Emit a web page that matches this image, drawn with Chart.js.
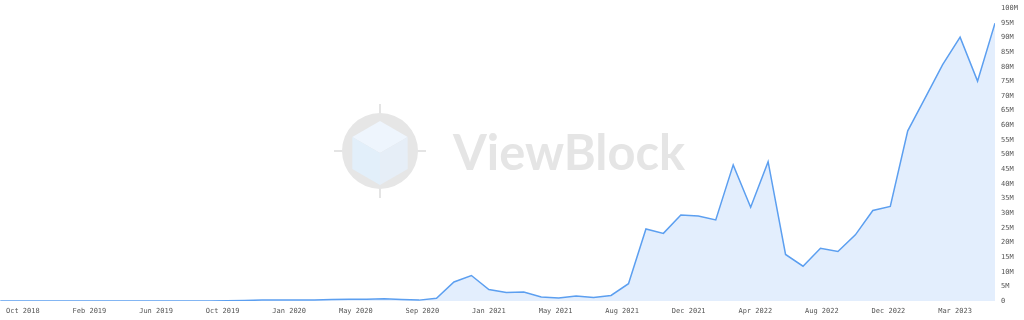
<!DOCTYPE html>
<html>
<head>
<meta charset="utf-8">
<script src="https://cdn.jsdelivr.net/npm/chart.js@4/dist/chart.umd.min.js"></script>
<style>
  html, body { margin: 0; padding: 0; background: #fff; overflow: hidden; }
  #wrap { width: 1024px; height: 322px; position: relative; top: -2px; }
</style>
</head>
<body>
<div id="wrap"><canvas id="c"></canvas></div>
<script>
// Monthly points, Sep 2018 .. Jun 2023 (values in millions)
const months = [
  'Sep 2018','Oct 2018','Nov 2018','Dec 2018','Jan 2019','Feb 2019','Mar 2019','Apr 2019','May 2019','Jun 2019',
  'Jul 2019','Aug 2019','Sep 2019','Oct 2019','Nov 2019','Dec 2019','Jan 2020','Feb 2020','Mar 2020','Apr 2020',
  'May 2020','Jun 2020','Jul 2020','Aug 2020','Sep 2020','Oct 2020','Nov 2020','Dec 2020','Jan 2021','Feb 2021',
  'Mar 2021','Apr 2021','May 2021','Jun 2021','Jul 2021','Aug 2021','Sep 2021','Oct 2021','Nov 2021','Dec 2021',
  'Jan 2022','Feb 2022','Mar 2022','Apr 2022','May 2022','Jun 2022','Jul 2022','Aug 2022','Sep 2022','Oct 2022',
  'Nov 2022','Dec 2022','Jan 2023','Feb 2023','Mar 2023','Apr 2023','May 2023','Jun 2023'
];
const values = [
  0, 0, 0, 0, 0, 0, 0, 0, 0, 0,
  0, 0, 0, 0.05, 0.2, 0.3, 0.3, 0.3, 0.35, 0.5,
  0.6, 0.6, 0.8, 0.5, 0.3, 0.9, 6.5, 8.7, 3.9, 2.9,
  3.1, 1.4, 1.0, 1.7, 1.2, 1.9, 5.9, 24.6, 23.1, 29.4,
  29.0, 27.7, 46.5, 32.0, 47.6, 15.9, 11.9, 18.0, 16.9, 22.6,
  30.9, 32.3, 58.1, 69.4, 80.7, 90.1, 75.1, 94.9
];
const xTickLabels = [
  'Oct 2018','Feb 2019','Jun 2019','Oct 2019','Jan 2020','May 2020','Sep 2020','Jan 2021',
  'May 2021','Aug 2021','Dec 2021','Apr 2022','Aug 2022','Dec 2022','Mar 2023'
];
const yMax = 100;
const yStep = 5;

const points = values.map((v, i) => ({ x: i, y: v }));

const watermark = {
  id: 'watermark',
  beforeDatasetsDraw(chart) {
    const ctx = chart.ctx;
    ctx.save();
    const cx = 380, cy = 153;
    ctx.strokeStyle = '#e4e4e4';
    ctx.lineWidth = 2;
    ctx.beginPath();
    ctx.moveTo(cx, cy - 47); ctx.lineTo(cx, cy + 47);
    ctx.moveTo(cx - 46, cy); ctx.lineTo(cx + 46, cy);
    ctx.stroke();
    ctx.fillStyle = '#e6e6e6';
    ctx.beginPath(); ctx.arc(cx, cy, 38, 0, Math.PI * 2); ctx.fill();
    const r = 32;
    const pts = [];
    for (let k = 0; k < 6; k++) {
      const a = -Math.PI / 2 + k * Math.PI / 3;
      pts.push([cx + r * Math.cos(a), cy + 2 + r * Math.sin(a)]);
    }
    const c0 = [cx, cy + 2];
    const face = (a, b, c, col) => {
      ctx.fillStyle = col;
      ctx.beginPath();
      ctx.moveTo(a[0], a[1]); ctx.lineTo(b[0], b[1]); ctx.lineTo(c[0], c[1]); ctx.lineTo(c0[0], c0[1]);
      ctx.closePath(); ctx.fill();
    };
    face(pts[5], pts[0], pts[1], '#eef5fd');
    face(pts[1], pts[2], pts[3], '#e6eef7');
    face(pts[3], pts[4], pts[5], '#e2effa');
    ctx.fillStyle = '#e5e5e5';
    let size = 52;
    ctx.font = '700 ' + size + 'px Lato, "Open Sans", sans-serif';
    const w = ctx.measureText('ViewBlock').width;
    size = size * 232 / w;
    ctx.font = '700 ' + size + 'px Lato, "Open Sans", sans-serif';
    ctx.textBaseline = 'alphabetic';
    ctx.textAlign = 'left';
    ctx.fillText('ViewBlock', 453, 172);
    ctx.restore();
  }
};

new Chart(document.getElementById('c'), {
  type: 'line',
  data: {
    datasets: [{
      data: points,
      borderColor: '#5c9ff0',
      backgroundColor: '#e3eefd',
      borderWidth: 1.5,
      fill: 'origin',
      pointRadius: 0,
      tension: 0
    }]
  },
  options: {
    responsive: true,
    maintainAspectRatio: false,
    animation: false,
    layout: { padding: { top: 0, right: 0, left: 0, bottom: 0 } },
    plugins: { legend: { display: false }, tooltip: { enabled: false } },
    scales: {
      x: {
        type: 'linear',
        min: 0,
        max: values.length - 1,
        grid: { display: false, drawTicks: false },
        border: { display: false },
        afterBuildTicks(scale) {
          scale.ticks = xTickLabels.map((_, i) => ({ value: 1.3 + i * 3.815 }));
        },
        afterFit(scale) { scale.height = 19; },
        ticks: {
          autoSkip: false,
          maxRotation: 0,
          padding: 6,
          color: '#555',
          font: { family: '"DejaVu Sans Mono", monospace', size: 7 },
          callback(value, index) { return xTickLabels[index]; }
        }
      },
      y: {
        position: 'right',
        min: 0,
        max: yMax,
        grid: { display: false, drawTicks: false },
        border: { display: false },
        afterFit(scale) { scale.width = 29; },
        ticks: {
          stepSize: yStep,
          padding: 6,
          color: '#555',
          font: { family: '"DejaVu Sans Mono", monospace', size: 7 },
          callback(v) { return v === 0 ? '0' : v + 'M'; }
        }
      }
    }
  },
  plugins: [watermark]
});
</script>
</body>
</html>
